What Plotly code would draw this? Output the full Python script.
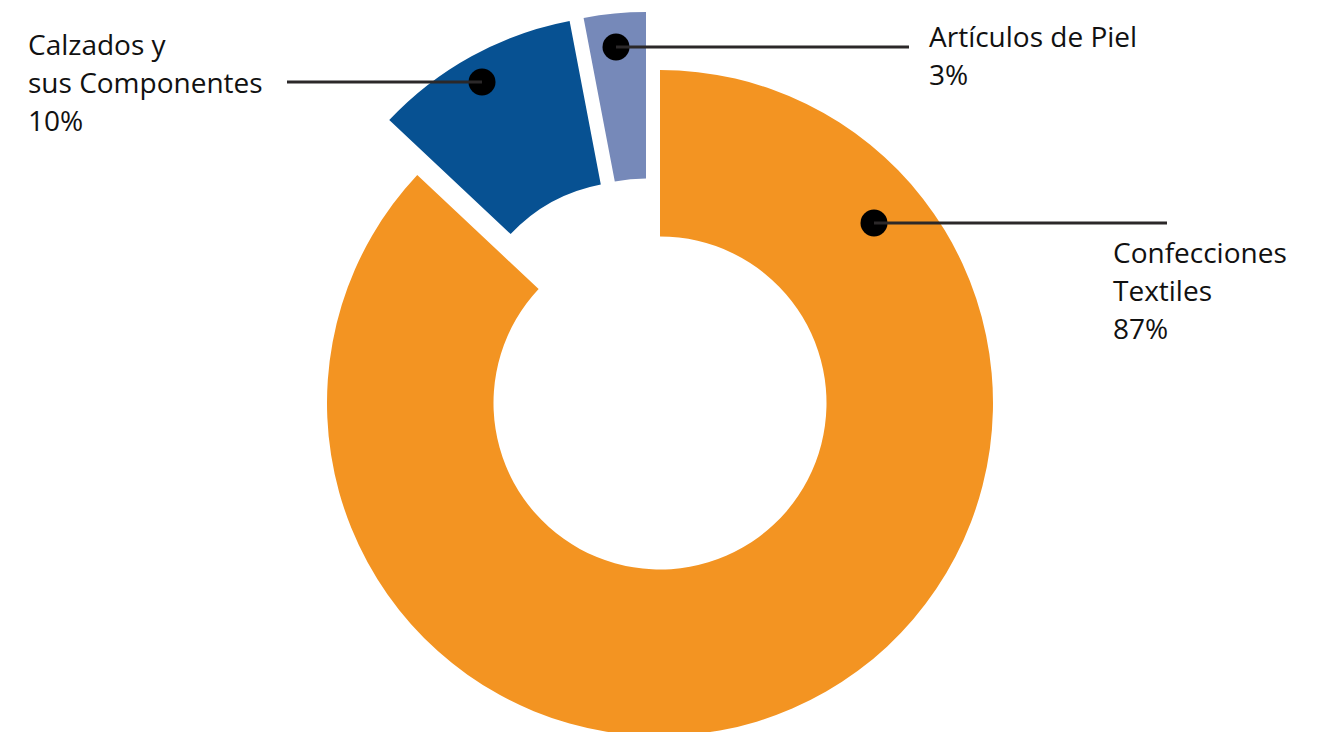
import plotly.graph_objects as go

# Export shares by product group
categories = ["Confecciones Textiles", "Calzados y sus Componentes", "Artículos de Piel"]
shares = [87, 10, 3]
label_lines = [["Confecciones", "Textiles"], ["Calzados y", "sus Componentes"], ["Artículos de Piel"]]

# Styling
colors = ["#F39422", "#075192", "#7689B9"]
text_color = "#111111"
leader_color = "#2b2829"
font_family = "Open Sans"
font_size = 28
line_step = 38  # px between label lines

# Canvas and ring geometry (pixels)
W, H = 1335, 740
CX, CY, R = 660, 403, 333
HOLE = 0.5
# exploded offset of each slice from the ring centre
slice_offsets = [(0, 0), (-28, -55), (-14, -58)]

# label anchors: (dot x, dot y, leader end x, text left x, text top y)
label_pos = [
    (874, 223, 1167, 1111, 231),
    (482, 82, 287, 26, 23),
    (616, 47, 909, 927, 15),
]


def px(x):
    return x / W


def py(y):
    return 1 - y / H


fig = go.Figure()

for i, (dx, dy) in enumerate(slice_offsets):
    cx, cy = CX + dx, CY + dy
    slice_colors = [c if j == i else "rgba(0,0,0,0)" for j, c in enumerate(colors)]
    fig.add_trace(go.Pie(
        labels=categories,
        values=shares,
        sort=False,
        direction="clockwise",
        rotation=0,
        hole=HOLE,
        marker=dict(colors=slice_colors, line=dict(width=0)),
        textinfo="none",
        hoverinfo="label+percent",
        showlegend=False,
        domain=dict(x=[px(cx - R), px(cx + R)], y=[py(cy + R), py(cy - R)]),
    ))

shapes = []
annotations = []
DOT = 13.5
for i, (dxp, dyp, lx, tx, ty) in enumerate(label_pos):
    shapes.append(dict(
        type="circle", xref="paper", yref="paper", layer="above",
        xsizemode="pixel", ysizemode="pixel",
        xanchor=px(dxp), yanchor=py(dyp),
        x0=-DOT, x1=DOT, y0=-DOT, y1=DOT,
        fillcolor="#000000", line=dict(width=0),
    ))
    shapes.append(dict(
        type="line", xref="paper", yref="paper", layer="above",
        x0=px(dxp), y0=py(dyp), x1=px(lx), y1=py(dyp),
        line=dict(color=leader_color, width=3),
    ))
    lines = label_lines[i] + [f"{shares[i]}%"]
    for k, line in enumerate(lines):
        annotations.append(dict(
            xref="paper", yref="paper", x=px(tx), y=py(ty + k * line_step),
            xanchor="left", yanchor="top", align="left",
            text=line, showarrow=False,
            font=dict(family=font_family, size=font_size, color=text_color),
        ))

fig.update_layout(
    width=W, height=H,
    margin=dict(l=0, r=0, t=0, b=0),
    paper_bgcolor="white", plot_bgcolor="white",
    shapes=shapes, annotations=annotations,
    showlegend=False,
)

fig.write_html(
    "out.html",
    post_script="document.body.style.margin='0';document.body.style.overflow='hidden';",
)
